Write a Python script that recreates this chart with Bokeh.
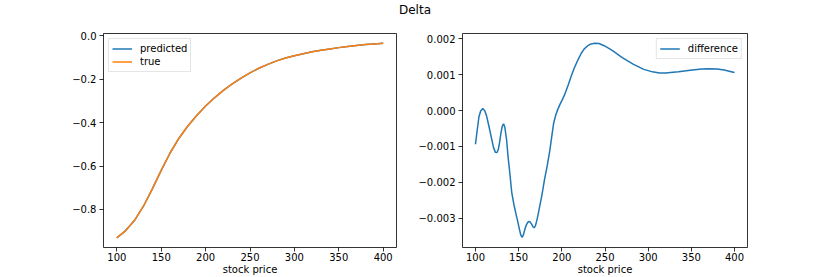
from bokeh.plotting import figure
from bokeh.models import (Range1d, FixedTicker, CustomJSTickFormatter, Legend,
                          LegendItem, Div)
from bokeh.layouts import column, row
from bokeh.embed import file_html
from bokeh.resources import INLINE

# ---------------- data ----------------
title_text = "Delta"
x_label = "stock price"
x_ticks = [100, 150, 200, 250, 300, 350, 400]
left_y_ticks = [0.0, -0.2, -0.4, -0.6, -0.8]
right_y_ticks = [0.002, 0.001, 0.0, -0.001, -0.002, -0.003]

stock = [100, 110, 120, 130, 140, 150, 160, 170, 180, 190, 200, 210, 220,
         230, 240, 250, 260, 270, 280, 290, 300, 310, 320, 330, 340, 350,
         360, 370, 380, 390, 400]
delta_true = [-0.931, -0.897, -0.850, -0.785, -0.705, -0.620, -0.540,
              -0.472, -0.416, -0.367, -0.324, -0.286, -0.252, -0.222,
              -0.195, -0.171, -0.150, -0.132, -0.116, -0.103, -0.092,
              -0.083, -0.074, -0.067, -0.061, -0.055, -0.050, -0.045,
              -0.041, -0.038, -0.035]
delta_predicted = [-0.931, -0.897, -0.850, -0.785, -0.705, -0.620, -0.540,
                   -0.472, -0.416, -0.367, -0.324, -0.286, -0.252, -0.222,
                   -0.195, -0.171, -0.150, -0.132, -0.116, -0.103, -0.092,
                   -0.083, -0.074, -0.067, -0.061, -0.055, -0.050, -0.045,
                   -0.041, -0.038, -0.035]

diff_stock = [100, 102, 104, 106, 108.5, 111, 113, 116, 119, 121, 123, 125,
              126.5, 128, 129.5, 131, 132.5, 134, 136, 137.8, 139.5, 142,
              144.5, 147, 149, 151, 152.5, 154, 155.5, 157, 158.7, 160.5,
              162, 163.5, 165, 166.5, 168, 169.5, 171.5, 174, 177, 180, 183,
              186, 188.5, 190.5, 193, 195.5, 198, 200.5, 203, 207.5, 211,
              215, 219, 222.5, 226, 230, 234, 238, 243, 249, 255, 260, 270,
              283, 295, 305, 313, 320, 335, 351, 362, 370, 380, 388, 395, 400]
difference = [-0.00094, -0.00055, -0.00018, -0.00001, 0.00006, -0.00002,
              -0.00016, -0.00048, -0.00082, -0.00104, -0.00116, -0.00117,
              -0.00108, -0.00088, -0.00063, -0.00044, -0.00037, -0.00046,
              -0.00080, -0.00130, -0.00168, -0.00228, -0.00262, -0.00289,
              -0.00310, -0.00332, -0.00347, -0.00354, -0.00347, -0.00333,
              -0.00320, -0.00312, -0.00309, -0.00311, -0.00317, -0.00324,
              -0.00327, -0.00321, -0.00302, -0.00272, -0.00235, -0.00192,
              -0.00155, -0.00113, -0.00070, -0.00036, -0.00012, 0.00004,
              0.00018, 0.00030, 0.00043, 0.00072, 0.00097, 0.00122, 0.00143,
              0.00160, 0.00172, 0.00181, 0.00186, 0.00188, 0.00187, 0.00181,
              0.00173, 0.00165, 0.00148, 0.00129, 0.00115, 0.00108, 0.00105,
              0.00105, 0.00108, 0.00113, 0.00116, 0.00117, 0.00116, 0.00113,
              0.00109, 0.00106]

BLUE = "#1f77b4"
ORANGE = "#ff7f0e"
FONT = "DejaVu Sans"


def style(p, yticks, decimals):
    p.outline_line_color = "black"
    p.outline_line_width = 0.8
    p.background_fill_color = "white"
    p.border_fill_color = "white"
    p.xgrid.visible = False
    p.ygrid.visible = False
    p.xaxis.ticker = FixedTicker(ticks=x_ticks)
    p.yaxis.ticker = FixedTicker(ticks=yticks)
    p.yaxis.formatter = CustomJSTickFormatter(
        code="var t = Math.abs(tick) < 1e-12 ? 0 : tick;"
             "return t.toFixed(%d).replace('-', '\u2212');" % decimals)
    for ax in (p.xaxis[0], p.yaxis[0]):
        ax.axis_line_color = None
        ax.major_tick_line_color = "black"
        ax.major_tick_line_width = 0.8
        ax.major_tick_in = 0
        ax.major_tick_out = 4
        ax.minor_tick_line_color = None
        ax.major_label_text_font = FONT
        ax.major_label_text_font_size = "10px"
        ax.major_label_text_color = "black"
        ax.major_label_standoff = 3
    p.xaxis.major_label_standoff = 1
    p.xaxis.axis_label = x_label
    p.xaxis.axis_label_text_font = FONT
    p.xaxis.axis_label_text_font_size = "10px"
    p.xaxis.axis_label_text_font_style = "normal"
    p.xaxis.axis_label_text_color = "black"
    p.xaxis.axis_label_standoff = 0


def make_legend(items, location):
    lg = Legend(items=items, location=location)
    lg.label_text_font = FONT
    lg.label_text_font_size = "10px"
    lg.label_text_color = "black"
    lg.label_height = 13
    lg.glyph_height = 13
    lg.glyph_width = 20
    lg.label_standoff = 8
    lg.spacing = 0
    lg.padding = 3
    lg.margin = 5
    lg.border_line_color = "#cccccc"
    lg.border_line_width = 1
    lg.background_fill_alpha = 0.8
    return lg


p1 = figure(width=415, height=257, output_backend="svg", toolbar_location=None,
            x_range=Range1d(85, 415), y_range=Range1d(-0.975, 0.01),
            min_border_left=103, min_border_right=19, min_border_top=13,
            min_border_bottom=30)
style(p1, left_y_ticks, 1)
r_pred = p1.line(stock, delta_predicted, line_color=BLUE, line_width=1.5)
r_true = p1.line(stock, delta_true, line_color=ORANGE, line_width=1.5)
p1.add_layout(make_legend([LegendItem(label="predicted", renderers=[r_pred]),
                           LegendItem(label="true", renderers=[r_true])],
                          "top_left"))

p2 = figure(width=415, height=257, output_backend="svg", toolbar_location=None,
            x_range=Range1d(85, 415), y_range=Range1d(-0.00382, 0.00215),
            min_border_left=39, min_border_right=83, min_border_top=13,
            min_border_bottom=30)
style(p2, right_y_ticks, 3)
r_diff = p2.line(diff_stock, difference, line_color=BLUE, line_width=1.5)
p2.add_layout(make_legend([LegendItem(label="difference", renderers=[r_diff])],
                          "top_right"))

title = Div(text=title_text, width=830, height=20, margin=0,
            styles={"text-align": "center", "font-family": FONT,
                    "font-size": "12px", "line-height": "20px",
                    "color": "black"})

layout = column(title, row(p1, p2, spacing=0), spacing=0)
open("out.html", "w").write(file_html(layout, INLINE))
